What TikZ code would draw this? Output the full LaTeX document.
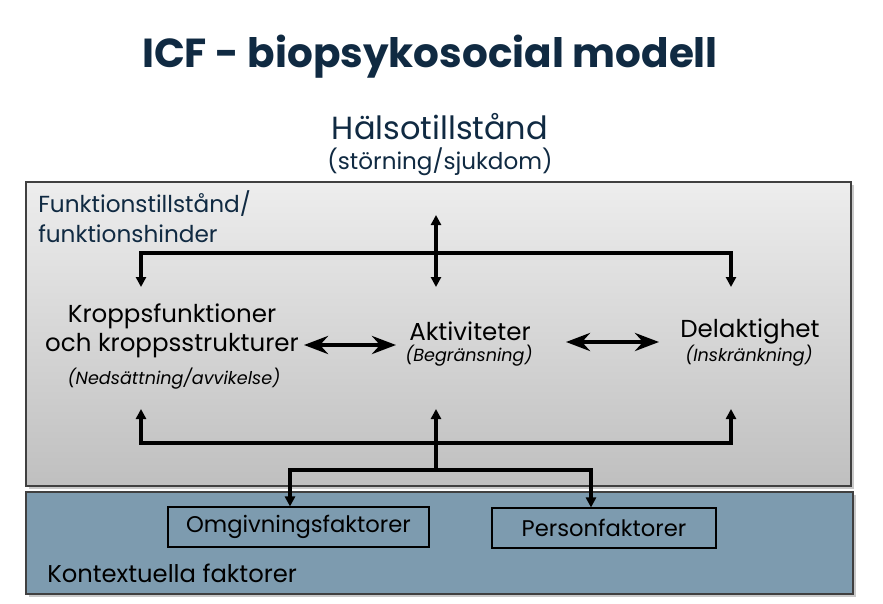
\documentclass[tikz,border=0pt]{standalone}
\usepackage{fontspec}
\setmainfont{Poppins}
\usetikzlibrary{arrows.meta,shadows}
\definecolor{navy}{HTML}{102A42}
\definecolor{ctxblue}{HTML}{7D9BAF}
\definecolor{boxedge}{HTML}{404040}
\tikzset{
  conn/.style={line width=2.3pt, -{Triangle[length=7.5pt,width=7.5pt]}},
  bigdbl/.style={line width=3pt, {Stealth[length=18pt,width=13.5pt,inset=6pt]}-{Stealth[length=18pt,width=13.5pt,inset=6pt]}},
  lbl/.style={font=\fontsize{18.4}{21}\selectfont, text=black, align=center, inner sep=0pt},
  sub/.style={font=\fontsize{13.2}{15}\selectfont\itshape, text=black, inner sep=0pt},
  factbox/.style={draw=black, line width=0.8pt, font=\fontsize{17}{20}\selectfont, text=black, inner sep=0pt},
  shdw/.style={drop shadow={shadow xshift=2pt, shadow yshift=-2pt, fill=black!35, opacity=0.6}}
}
\begin{document}
\begin{tikzpicture}[x=0.75pt,y=-0.75pt]
\useasboundingbox (0,0) rectangle (883,604);
\fill[white] (0,0) rectangle (883,604);
% title
\node[font=\fontsize{30.4}{36}\selectfont\bfseries, text=navy, inner sep=0pt] (title) at (430,57) {ICF - biopsykosocial modell};
\node[font=\fontsize{24}{29}\selectfont, text=navy, inner sep=0pt] (halsa) at (440,127) {Hälsotillstånd};
\node[font=\fontsize{17.3}{20}\selectfont, text=navy, inner sep=0pt] (halsasub) at (440,162) {(störning/sjukdom)};
% boxes
\path[shdw, top color=black!7, bottom color=black!25, draw=boxedge, line width=0.8pt] (26,182) rectangle (851,486);
\path[shdw, fill=ctxblue, draw=boxedge, line width=0.8pt] (26,492) rectangle (853,594);
\node[anchor=west, font=\fontsize{17.4}{20}\selectfont, text=navy, inner sep=0pt, align=left] (funk) at (38,204) {Funktionstillstånd/};
\node[anchor=west, font=\fontsize{17.4}{20}\selectfont, text=navy, inner sep=0pt, align=left] (funk2) at (38,234) {funktionshinder};
% main nodes
\node[lbl] (kropp1) at (172,316) {Kroppsfunktioner};
\node[lbl] (kropp2) at (172,346) {och kroppsstrukturer};
\node[sub] (kroppsub) at (174,379) {(Nedsättning/avvikelse)};
\node[lbl] (akt) at (470,331) {Aktiviteter};
\node[sub] (aktsub) at (469,356) {(Begränsning)};
\node[lbl] (del) at (750,331) {Delaktighet};
\node[sub] (delsub) at (749,356) {(Inskränkning)};
% factor boxes
\node[factbox, minimum width=261*0.75pt, minimum height=40*0.75pt] (omg) at (298.5,527) {Omgivningsfaktorer};
\node[factbox, minimum width=224*0.75pt, minimum height=40*0.75pt] (pers) at (604,528) {Personfaktorer};
\node[anchor=west, font=\fontsize{18.2}{21}\selectfont, text=black, inner sep=0pt] (kontext) at (47,573) {Kontextuella faktorer};
% coordinates
\coordinate (topA) at (436,215);
\coordinate (topB) at (436,287);
\coordinate (topL) at (141,253);
\coordinate (topR) at (731,253);
\coordinate (topLd) at (141,287);
\coordinate (topRd) at (731,287);
\coordinate (botL) at (141,443);
\coordinate (botR) at (731,443);
\coordinate (botLu) at (141,409);
\coordinate (botRu) at (731,409);
\coordinate (hubB) at (436,470);
\coordinate (hubT) at (436,409);
\coordinate (splL) at (290,470);
\coordinate (splR) at (591,470);
\coordinate (k2e) at (304,345);
\coordinate (k2f) at (396,345);
\coordinate (ad1) at (566,342);
\coordinate (ad2) at (659,342);
% top connectors
\draw[line width=2.3pt, {Triangle[length=7.5pt,width=7.5pt]}-{Triangle[length=7.5pt,width=7.5pt]}] (topA) -- (topB);
\draw[conn] (topL) -- (topR) -- (topRd);
\draw[conn] (topR) -- (topL) -- (topLd);
% horizontal double arrows
\draw[bigdbl] (k2e) -- (k2f);
\draw[bigdbl] (ad1) -- (ad2);
% bottom connectors
\draw[conn] (botR) -- (botL) -- (botLu);
\draw[conn] (botL) -- (botR) -- (botRu);
\draw[conn] (hubB) -- (hubT);
\draw[conn] (splR) -- (splL) -- (omg.north -| splL);
\draw[conn] (splL) -- (splR) -- (pers.north -| splR);
\end{tikzpicture}
\end{document}
